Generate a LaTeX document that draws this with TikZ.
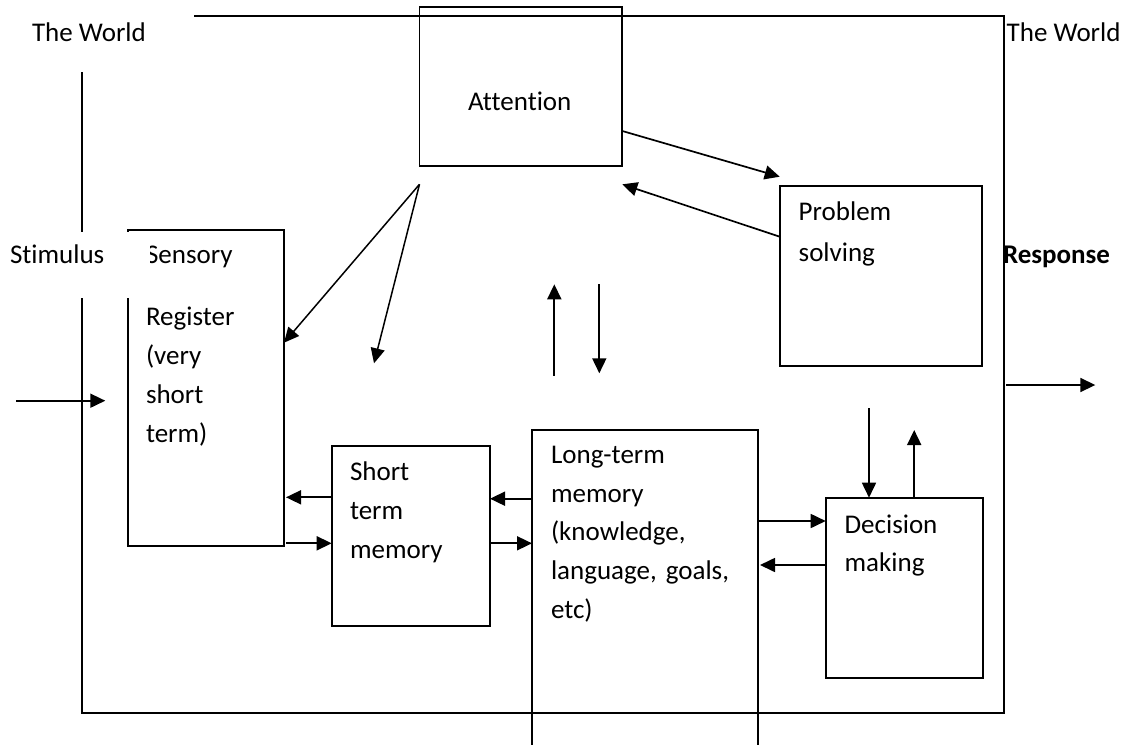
\documentclass[tikz,border=0pt]{standalone}
\usepackage{fontspec}
\setmainfont{Carlito}[Ligatures=NoCommon]
\usetikzlibrary{arrows.meta}
\frenchspacing

\begin{document}
\begin{tikzpicture}[x=1pt,y=-1pt,
  box/.style={draw, line width=1.8pt, inner sep=0pt, outer sep=0pt, anchor=north west},
  frameline/.style={line width=1.8pt},
  word/.style={inner sep=0pt, outer sep=0pt, font=\fontsize{27}{39}\selectfont},
  lbl/.style={inner sep=0pt, outer sep=0pt, anchor=base west, text width=240pt,
              align=left, font=\fontsize{27}{39}\selectfont},
  cover/.style={fill=white, draw=none, inner sep=0pt, outer sep=0pt, anchor=north west},
  link/.style={line width=1.7pt, -{Triangle[length=15pt,width=14pt]}},
  thinlink/.style={line width=1.5pt, -{Triangle[length=15pt,width=14pt]}},
]
\useasboundingbox (0,0) rectangle (1131,744);
\clip (0,0) rectangle (1131,744);

% the world frame
\draw[frameline] (194,15.7) -- (1003.7,15.7) -- (1003.7,713.3) -- (81.7,713.3) -- (81.7,71.7);

% processing stages
\node[box, minimum width=202.8pt, minimum height=158.4pt] (att)  at (419.5,7.3)   {};
\node[box, minimum width=202.3pt, minimum height=180pt]   (prob) at (779.7,185.7) {};
\node[box, minimum width=156.3pt, minimum height=315.7pt] (sens) at (127.7,230)   {};
\node[box, minimum width=158.3pt, minimum height=180pt]   (stm)  at (331.7,445.7) {};
\node[box, minimum width=226pt,   minimum height=340pt]   (ltm)  at (532,430)     {};
\node[box, minimum width=157.6pt, minimum height=180pt]   (dec)  at (825.7,497.7) {};

% labels
\node[word, anchor=base west] (worldL) at (32,41.7)     {The World};
\node[word, anchor=base west] (worldR) at (1006.7,41.7) {The World};
\node[word, anchor=base] (attT) at (519.7,110) {Attention};
\node[lbl, font=\fontsize{27}{41.7}\selectfont] (probT) at (798.7,220) {Problem\\solving};
\node[lbl] (sensT) at (146,263.3) {Sensory\\[23.4pt]Register\\(very\\short\\term)};
\node[cover, minimum width=150pt, minimum height=66.6pt] (stimbg) at (0,231.8) {};
\node[word, anchor=base west] (stim) at (10,263.3) {Stimulus};
\node[lbl] (stmT) at (350,480) {Short\\term\\memory};
\node[lbl, font=\fontsize{27}{38.75}\selectfont] (ltmT) at (551,463.3)
  {Long-term\\memory\\(knowledge,\\language, goals,\\etc)};
\node[lbl, font=\fontsize{27}{38.4}\selectfont] (decT) at (844.6,533.3) {Decision\\making};
\node[word, anchor=base west, font=\fontsize{27}{39}\selectfont\bfseries] (resp) at (1003,263.3) {Response};

% free ends
\coordinate (apex) at ([yshift=-18.6pt]att.south west);
\coordinate (cue)  at (374,363.3);
\coordinate (upA)  at (554.3,375.7);
\coordinate (upB)  at (554.3,284.3);
\coordinate (dnA)  at (599.3,284.3);
\coordinate (dnB)  at (599.3,373.3);
\coordinate (dnD)  at (869,408.3);
\coordinate (upD)  at (914.2,430);
\coordinate (inS)  at (16,400.7);
\coordinate (outA) at (1006,385);
\coordinate (outB) at (1095.3,385);

% attention and problem solving
\draw[link] ([yshift=-123.7pt]att.north east) -- ([yshift=9pt]prob.north west);
\draw[link] ([yshift=-51pt]prob.north west) -- ([yshift=-18.6pt]att.south east);
\draw[thinlink] (apex) -- ([yshift=-112.7pt]sens.north east);
\draw[thinlink] (apex) -- (cue);
\draw[link] (upA) -- (upB);
\draw[link] (dnA) -- (dnB);

% memory stores
\draw[link, shorten >=2pt] (stm.west |- 0,497.3) -- (sens.east |- 0,497.3);
\draw[link, shorten <=2pt] (sens.east |- 0,543.3) -- (stm.west |- 0,543.3);
\draw[link] (ltm.west |- 0,498.7) -- (stm.east |- 0,498.7);
\draw[link] (stm.east |- 0,543.3) -- (ltm.west |- 0,543.3);
\draw[link] (ltm.east |- 0,521) -- (dec.west |- 0,521);
\draw[link, shorten >=2pt] (dec.west |- 0,565) -- (ltm.east |- 0,565);

% decision making
\draw[link] (dnD) -- (dnD |- dec.north);
\draw[link] (upD |- dec.north) -- (upD);

% stimulus in, response out
\draw[link, shorten >=22.4pt] (inS) -- (sens.west |- inS);
\draw[link] (outA) -- (outB);
\end{tikzpicture}
\end{document}
